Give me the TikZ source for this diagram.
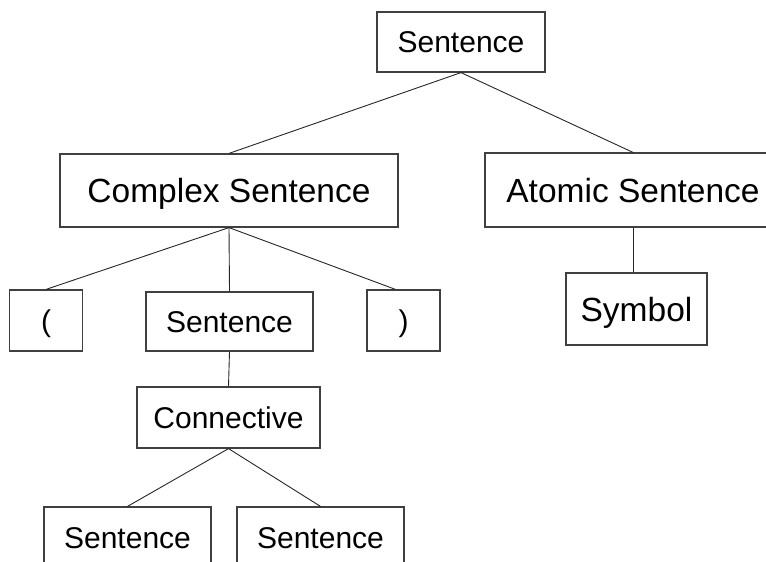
\documentclass[tikz,border=0pt]{standalone}
\usepackage{fontspec}
\setmainfont{Liberation Sans}
\begin{document}
\begin{tikzpicture}[x=1pt,y=-1pt,
  box/.style={draw=black!75, line width=1.2pt, inner sep=0pt,
    text depth=0pt, anchor=center},
  small/.style={box, font=\fontsize{30}{36}\selectfont, text height=21.5pt},
  large/.style={box, font=\fontsize{33.5}{40}\selectfont, text height=24pt},
  link/.style={draw=black!85, line width=0.9pt}]
\useasboundingbox (0,0) rectangle (766,562);
\clip (0,0) rectangle (766,562);

% tree nodes
\node[small, minimum width=168pt, minimum height=60pt] (top) at (461,42) {Sentence};
\node[large, minimum width=338pt, minimum height=73pt] (complex) at (229,190.5) {Complex Sentence};
\node[large, minimum width=296pt, minimum height=74pt] (atomic) at (633,190) {Atomic Sentence};
\node[small, minimum width=73pt, minimum height=61pt] (lparen) at (46,320.5) {(};
\node[small, minimum width=167pt, minimum height=59pt] (mid) at (229.5,321.5) {Sentence};
\node[small, minimum width=73pt, minimum height=61pt] (rparen) at (403.5,320.5) {)};
\node[large, minimum width=141pt, minimum height=72pt] (symbol) at (636.5,309) {Symbol};
\node[small, minimum width=183pt, minimum height=61pt] (conn) at (228.5,417.5) {Connective};
\node[small, minimum width=167pt, minimum height=61pt] (left) at (127.5,537.5) {Sentence};
\node[small, minimum width=167pt, minimum height=61pt] (right) at (320.5,537.5) {Sentence};

% branches
\draw[link] (top.south) -- (complex.north);
\draw[link] (top.south) -- (atomic.north);
\draw[link] (complex.south) -- (lparen.north);
\draw[link] (complex.south) -- (mid.north);
\draw[link] (complex.south) -- ([xshift=-8pt]rparen.north);
\draw[link] (atomic.south) -- (atomic.south |- symbol.north);
\draw[link] (mid.south) -- (conn.north);
\draw[link] (conn.south) -- (left.north);
\draw[link] (conn.south) -- (right.north);
\end{tikzpicture}
\end{document}
